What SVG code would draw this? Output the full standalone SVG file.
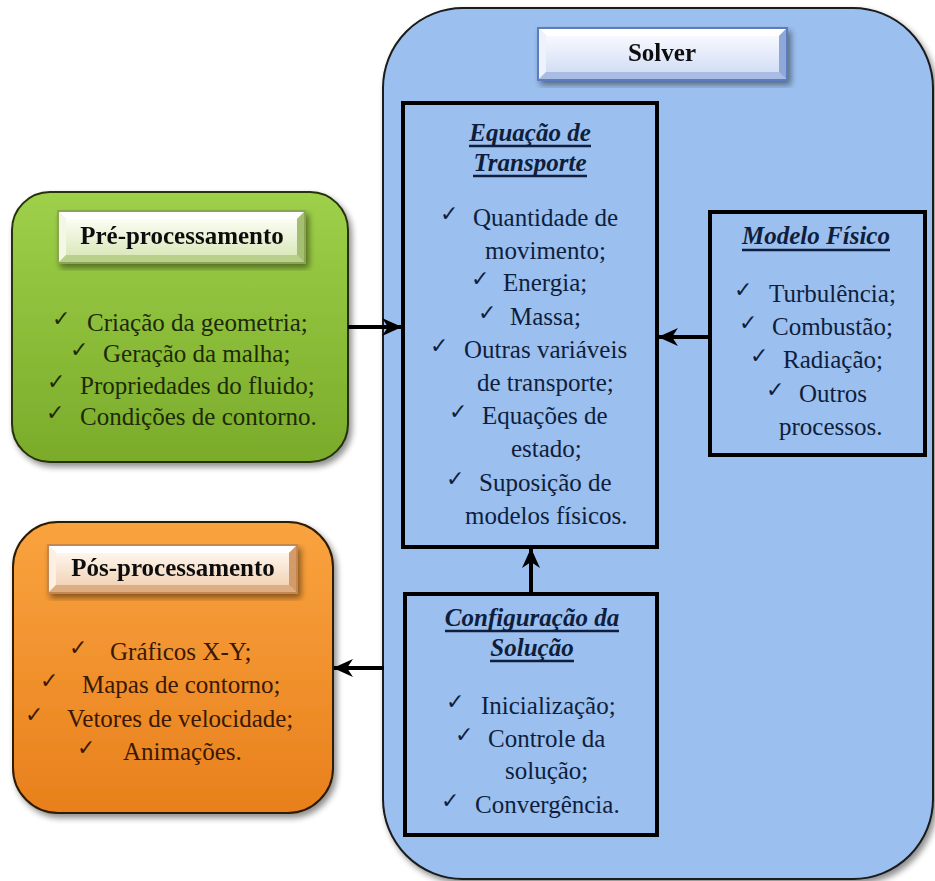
<svg xmlns="http://www.w3.org/2000/svg" width="935" height="881" viewBox="0 0 935 881">
<defs>
<style>
text.t{font-family:'Liberation Serif','Times New Roman','DejaVu Serif',serif;font-weight:normal;font-style:normal;font-size:25px}
text.ttl{font-family:'Liberation Serif','Times New Roman',serif;font-size:25px;font-weight:bold}
text.it{font-family:'Liberation Serif','Times New Roman',serif;font-size:25px;font-weight:bold;font-style:italic;text-anchor:middle}
text.ck{font-family:'DejaVu Sans',sans-serif;font-size:22px}
.mid{text-anchor:middle}
.g{fill:#1d2a08}
.o{fill:#3a1805}
.b{fill:#0f1e3c}
.frame{fill:none;stroke:#000;stroke-width:4}
.ul{stroke-width:2.5}
.conn{stroke:#000;stroke-width:4;fill:none}
</style>
<linearGradient id="gGreen" x1="0" y1="0" x2="0" y2="1">
<stop offset="0" stop-color="#9fd04a"/><stop offset="1" stop-color="#7aab2a"/>
</linearGradient>
<linearGradient id="gOrange" x1="0" y1="0" x2="0" y2="1">
<stop offset="0" stop-color="#f9a33f"/><stop offset="1" stop-color="#e8801c"/>
</linearGradient>
<linearGradient id="lGreen" x1="0" y1="0" x2="0" y2="1">
<stop offset="0" stop-color="#fbfdf3"/><stop offset="1" stop-color="#dbe9bd"/>
</linearGradient>
<linearGradient id="lOrange" x1="0" y1="0" x2="0" y2="1">
<stop offset="0" stop-color="#fef5ec"/><stop offset="1" stop-color="#f2d4b8"/>
</linearGradient>
<linearGradient id="lBlue" x1="0" y1="0" x2="0" y2="1">
<stop offset="0" stop-color="#f7f9ff"/><stop offset="1" stop-color="#d3def5"/>
</linearGradient>
<filter id="sh" x="-10%" y="-10%" width="125%" height="125%">
<feGaussianBlur in="SourceAlpha" stdDeviation="3"/>
<feOffset dx="3" dy="4" result="o"/>
<feComponentTransfer><feFuncA type="linear" slope="0.45"/></feComponentTransfer>
<feMerge><feMergeNode/><feMergeNode in="SourceGraphic"/></feMerge>
</filter>
<marker id="arr" markerUnits="userSpaceOnUse" markerWidth="20" markerHeight="20" viewBox="0 0 20 20" refX="19" refY="10" orient="auto">
<path d="M0,1 L20,10 L0,19 L6,10 z" fill="#000"/>
</marker>
</defs>
<rect width="935" height="881" fill="#fff"/>

<g id="solver">
<rect x="383" y="8" width="550" height="871" rx="80" fill="#9bbfee" stroke="#1a1a1a" stroke-width="2" filter="url(#sh)"/>
<g id="solver-label" filter="url(#sh)">
<rect x="538" y="28" width="249" height="52" fill="#c3d3f1" stroke="#5b7cbd" stroke-width="2"/>
<polygon points="539,29 786,29 779,36 546,36" fill="#ffffff"/>
<polygon points="539,29 546,36 546,72 539,79" fill="#eef2fc"/>
<polygon points="539,79 546,72 779,72 786,79" fill="#a9bde4"/>
<polygon points="786,29 779,36 779,72 786,79" fill="#8fa8da"/>
<rect x="546" y="36" width="233" height="36" fill="url(#lBlue)"/>
<text class="ttl mid" x="662" y="61" fill="#111">Solver</text>
</g>
</g>

<g id="pre">
<rect x="12" y="192" width="336" height="270" rx="38" fill="url(#gGreen)" stroke="#26300a" stroke-width="2" filter="url(#sh)"/>
<g filter="url(#sh)">
<rect x="58" y="211" width="247" height="52" fill="#d6e7b0" stroke="#8aa653" stroke-width="2"/>
<polygon points="59,212 304,212 297,219 66,219" fill="#ffffff"/>
<polygon points="59,212 66,219 66,255 59,262" fill="#f2f8e3"/>
<polygon points="59,262 66,255 297,255 304,262" fill="#b9cf8c"/>
<polygon points="304,212 297,219 297,255 304,262" fill="#a4bf72"/>
<rect x="66" y="219" width="231" height="36" fill="url(#lGreen)"/>
<text class="ttl mid" x="182" y="244" fill="#111">Pré-processamento</text>
</g>
<text class="ck g" x="52" y="326">✓</text><text class="t g" x="87" y="331">Criação da geometria;</text>
<text class="ck g" x="70" y="357">✓</text><text class="t g" x="103" y="362">Geração da malha;</text>
<text class="ck g" x="47" y="389">✓</text><text class="t g" x="80" y="394">Propriedades do fluido;</text>
<text class="ck g" x="46" y="420">✓</text><text class="t g" x="80" y="425">Condições de contorno.</text>
</g>

<g id="pos">
<rect x="13" y="522" width="320" height="291" rx="45" fill="url(#gOrange)" stroke="#2e1a05" stroke-width="2" filter="url(#sh)"/>
<g filter="url(#sh)">
<rect x="48" y="545" width="249" height="48" fill="#f1d0b0" stroke="#c4874f" stroke-width="2"/>
<polygon points="49,546 296,546 289,553 56,553" fill="#ffffff"/>
<polygon points="49,546 56,553 56,585 49,592" fill="#fcefe3"/>
<polygon points="49,592 56,585 289,585 296,592" fill="#deae82"/>
<polygon points="296,546 289,553 289,585 296,592" fill="#d39b69"/>
<rect x="56" y="553" width="233" height="32" fill="url(#lOrange)"/>
<text class="ttl mid" x="173" y="576" fill="#111">Pós-processamento</text>
</g>
<text class="ck o" x="69" y="655">✓</text><text class="t o" x="110" y="660">Gráficos X-Y;</text>
<text class="ck o" x="40" y="688">✓</text><text class="t o" x="82" y="693">Mapas de contorno;</text>
<text class="ck o" x="25" y="722">✓</text><text class="t o" x="67" y="727">Vetores de velocidade;</text>
<text class="ck o" x="77" y="755">✓</text><text class="t o" x="123" y="760">Animações.</text>
</g>

<g id="eq">
<rect class="frame" x="403" y="103" width="254" height="444"/>
<text class="it b" x="530" y="141">Equação de</text>
<line class="ul" x1="469" y1="146" x2="591" y2="146" stroke="#0f1e3c"/>
<text class="it b" x="530" y="171">Transporte</text>
<line class="ul" x1="473" y1="176" x2="587" y2="176" stroke="#0f1e3c"/>
<text class="ck b" x="440" y="221">✓</text><text class="t b" x="473" y="226">Quantidade de</text>
<text class="t b" x="485" y="259">movimento;</text>
<text class="ck b" x="471" y="286">✓</text><text class="t b" x="503" y="291">Energia;</text>
<text class="ck b" x="478" y="320">✓</text><text class="t b" x="510" y="325">Massa;</text>
<text class="ck b" x="430" y="353">✓</text><text class="t b" x="464" y="358">Outras variáveis</text>
<text class="t b" x="477" y="391">de transporte;</text>
<text class="ck b" x="449" y="419">✓</text><text class="t b" x="482" y="424">Equações de</text>
<text class="t b" x="511" y="457">estado;</text>
<text class="ck b" x="446" y="486">✓</text><text class="t b" x="479" y="491">Suposição de</text>
<text class="t b" x="465" y="524">modelos físicos.</text>
</g>

<g id="modelo">
<rect class="frame" x="710" y="212" width="215" height="243"/>
<text class="it b" x="816" y="244">Modelo Físico</text>
<line class="ul" x1="742" y1="250" x2="890" y2="250" stroke="#0f1e3c"/>
<text class="ck b" x="734" y="297">✓</text><text class="t b" x="769" y="302">Turbulência;</text>
<text class="ck b" x="739" y="330">✓</text><text class="t b" x="772" y="335">Combustão;</text>
<text class="ck b" x="750" y="363">✓</text><text class="t b" x="783" y="368">Radiação;</text>
<text class="ck b" x="766" y="397">✓</text><text class="t b" x="799" y="402">Outros</text>
<text class="t b" x="779" y="435">processos.</text>
</g>

<g id="config">
<rect class="frame" x="405" y="594" width="252" height="241"/>
<text class="it b" x="532" y="626">Configuração da</text>
<line class="ul" x1="445" y1="631" x2="619" y2="631" stroke="#0f1e3c"/>
<text class="it b" x="532" y="656">Solução</text>
<line class="ul" x1="490" y1="661" x2="574" y2="661" stroke="#0f1e3c"/>
<text class="ck b" x="446" y="709">✓</text><text class="t b" x="481" y="714">Inicialização;</text>
<text class="ck b" x="455" y="742">✓</text><text class="t b" x="488" y="747">Controle da</text>
<text class="t b" x="505" y="779">solução;</text>
<text class="ck b" x="441" y="808">✓</text><text class="t b" x="475" y="813">Convergência.</text>
</g>

<g id="connectors">
<line class="conn" x1="348" y1="327" x2="401" y2="327" marker-end="url(#arr)"/>
<line class="conn" x1="384" y1="668" x2="334" y2="668" marker-end="url(#arr)"/>
<line class="conn" x1="531" y1="594" x2="531" y2="549" marker-end="url(#arr)"/>
<line class="conn" x1="710" y1="337" x2="659" y2="337" marker-end="url(#arr)"/>
</g>
</svg>
